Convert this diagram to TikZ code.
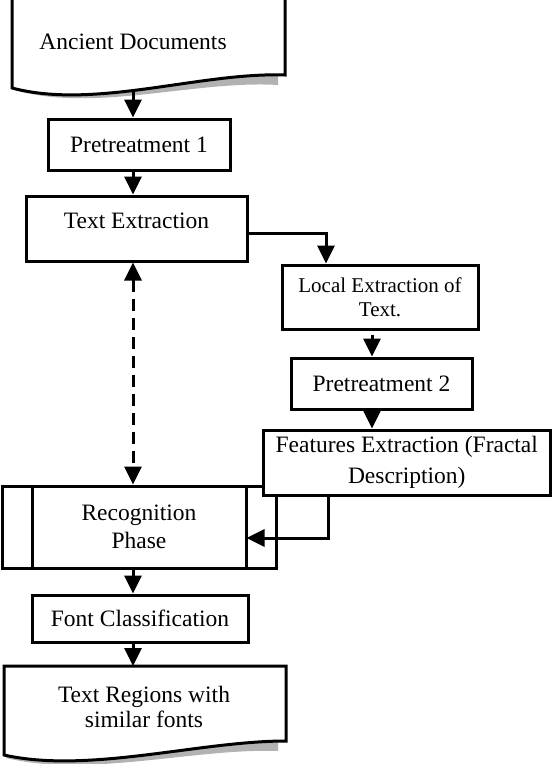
\documentclass[tikz,border=0pt]{standalone}
\usepackage{fontspec}
\setmainfont{Liberation Serif}
\usetikzlibrary{arrows.meta}

\begin{document}
\begin{tikzpicture}[x=1pt,y=-1pt,line width=3pt,
    box/.style={draw=black,fill=white,inner sep=0pt,align=center,
      font=\fontsize{23.5}{28}\selectfont},
    single/.style={box,text height=16pt,text depth=0pt},
    flow/.style={-{Triangle[width=17pt,length=18pt]}},
    flowboth/.style={{Triangle[width=17pt,length=18pt]}-{Triangle[width=17pt,length=18pt]}}]
  \clip (0,0) rectangle (552,764);
  % start document with its shadow
  \fill[gray!60] (14,90) .. controls (95,113) and (195,80) .. (278,85) -- (278,70) -- (14,70) -- cycle;
  \draw[fill=white] (12,-5) -- (12,88) .. controls (95,110) and (200,72) .. (285,75) -- (285,-5);
  \node[single,draw=none,fill=none] (anc) at (133,41) {Ancient Documents};
  \coordinate (anc-b) at (133,92);
  % left column
  \node[single,minimum width=182pt,minimum height=51pt] (pre1) at (139,144.5) {Pretreatment 1};
  \node[single,minimum width=221pt,minimum height=65pt,text depth=16pt] (txt) at (136.5,228.5) {Text Extraction};
  \node[box,minimum width=274pt,minimum height=82pt] (rec) at (139,527) {Recognition\\Phase};
  \draw ([xshift=32pt]rec.north west) -- ([xshift=32pt]rec.south west);
  \draw ([xshift=-31pt]rec.north east) -- ([xshift=-31pt]rec.south east);
  \coordinate (rec-r) at ([xshift=-31pt,yshift=-11pt]rec.east);
  \node[single,minimum width=216pt,minimum height=47pt] (font) at (140,618.5) {Font Classification};
  % right column
  \node[box,minimum width=196pt,minimum height=64pt,font=\fontsize{21}{24}\selectfont] (loc) at (380,297) {Local Extraction of\\Text.};
  \node[single,minimum width=181pt,minimum height=51pt] (pre2) at (381.5,383.5) {Pretreatment 2};
  \node[box,minimum width=287.5pt,minimum height=65pt,font=\fontsize{23.5}{31}\selectfont] (feat) at (406.75,462.5) {Features Extraction (Fractal\\Description)};
  % end document with its shadow
  \fill[gray!60] (6,758) .. controls (89,778) and (195,748) .. (278,751) -- (278,730) -- (6,730) -- cycle;
  \draw[fill=white] (4,755) -- (4,666) -- (286,666) -- (286,741) .. controls (199,741) and (89,774) .. (4,755) -- cycle;
  \node[box,draw=none,fill=none,font=\fontsize{23.5}{25}\selectfont] (reg) at (144,706.5) {Text Regions with\\similar fonts};
  \coordinate (reg-t) at (133,666);
  % connectors
  \draw[flow] (anc-b) -- (anc-b |- pre1.north);
  \draw[flow] (anc-b |- pre1.south) -- (anc-b |- txt.north);
  \draw[flow] ([yshift=-4.5pt]txt.east) -| ([xshift=-54pt]loc.north);
  \draw[flow] ([xshift=-8pt,yshift=-4pt]loc.south) -- ([xshift=-9.5pt]pre2.north);
  \draw[flow] ([xshift=-9.5pt]pre2.south) -- ([xshift=-9.5pt]pre2.south |- feat.north);
  \draw[flow] ([xshift=-78.75pt]feat.south) |- (rec-r);
  \draw[flowboth,dash pattern=on 12pt off 7pt] (anc-b |- txt.south) -- (anc-b |- rec.north);
  \draw[flow] (anc-b |- rec.south) -- (anc-b |- font.north);
  \draw[flow] (anc-b |- font.south) -- (reg-t);
\end{tikzpicture}
\end{document}
